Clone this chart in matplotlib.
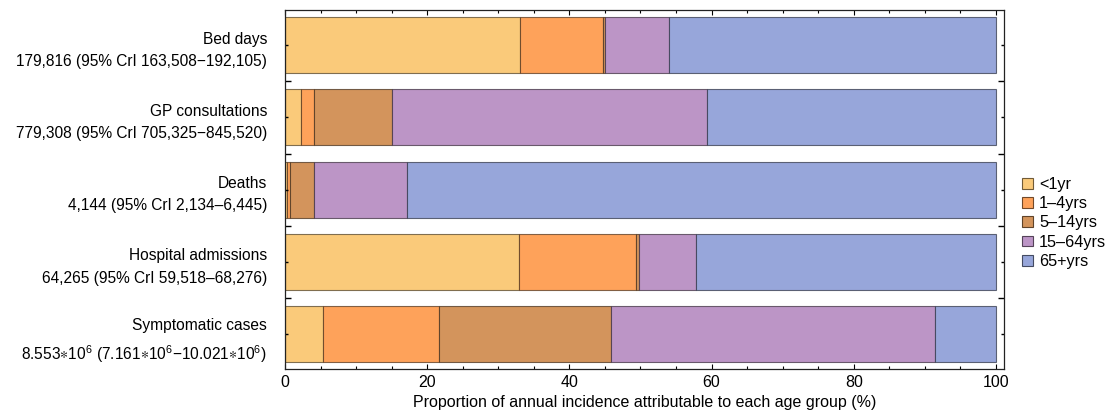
import numpy as np
import matplotlib.pyplot as plt
from matplotlib.patches import Patch
from matplotlib.ticker import MultipleLocator, FixedLocator
from matplotlib.colors import to_rgb

plt.rcParams['font.family'] = ['Liberation Sans', 'DejaVu Sans']
plt.rcParams['mathtext.fontset'] = 'custom'
plt.rcParams['mathtext.rm'] = 'Liberation Sans'
plt.rcParams['mathtext.it'] = 'Liberation Sans:italic'
plt.rcParams['mathtext.fallback'] = 'stixsans'

# === DATOS ===
categorias = ['Bed days', 'GP consultations', 'Deaths',
              'Hospital admissions', 'Symptomatic cases']
totales = ['179,816 (95% CrI 163,508\u2212192,105)',
           '779,308 (95% CrI 705,325\u2212845,520)',
           '4,144 (95% CrI 2,134\u20136,445)',
           '64,265 (95% CrI 59,518\u201368,276)',
           r'8.553$\ast$10$^{6}$ (7.161$\ast$10$^{6}$$-$10.021$\ast$10$^{6}$)']
grupos = ['<1yr', '1\u20134yrs', '5\u201314yrs', '15\u201364yrs', '65+yrs']

# porcentaje por grupo de edad (cada fila suma 100)
p_menor1 = [33.1, 2.2, 0.25, 32.9, 5.4]
p_1_4 = [11.6, 1.9, 0.45, 16.45, 16.3]
p_5_14 = [0.3, 11.0, 3.4, 0.4, 24.2]
p_15_64 = [9.0, 44.3, 13.0, 8.05, 45.6]
p_65 = [46.0, 40.6, 82.9, 42.2, 8.5]

colores = ['#FACA7A', '#FEA25A', '#D3945C', '#BC95C6', '#97A6DA']

# === FIGURA ===
fig = plt.figure(figsize=(11.14, 4.17), dpi=100)
ax = fig.add_axes([285 / 1114, 1 - 369.3 / 417, (1003.7 - 285) / 1114, (369.3 - 10) / 417])

y = np.arange(len(categorias))
alto = 0.775
izq = np.zeros(len(categorias))
for vals, col in zip([p_menor1, p_1_4, p_5_14, p_15_64, p_65], colores):
    borde = tuple(np.array(to_rgb(col)) * 0.35) + (0.75,)
    ax.barh(y, vals, left=izq, height=alto, color=col, edgecolor=borde,
            linewidth=0.8)
    izq += np.array(vals)

ax.set_xlim(0, 101.1)
ax.set_ylim(len(categorias) - 1 + 0.486, -0.486)

# ejes y: etiquetas en el centro de cada barra, separadores entre barras
ax.set_yticks(y)
ax.set_yticklabels([f'{c}\n{t}' for c, t in zip(categorias, totales)],
                   fontsize=11.2, linespacing=1.6)
ax.yaxis.set_minor_locator(FixedLocator(y[:-1] + 0.5))
ax.tick_params(axis='y', which='major', direction='in', length=2.5, width=1.0,
               pad=13, left=True, right=True)
ax.tick_params(axis='y', which='minor', direction='in', length=4.5, width=1.0,
               left=True, right=True)

ax.xaxis.set_major_locator(MultipleLocator(20))
ax.xaxis.set_minor_locator(MultipleLocator(5))
ax.tick_params(axis='x', which='major', direction='in', length=3.5, width=0.8,
               top=True, bottom=True, labelsize=11.5, pad=4)
ax.tick_params(axis='x', which='minor', direction='in', length=2, width=0.8,
               top=True, bottom=True)
ax.set_xlabel('Proportion of annual incidence attributable to each age group (%)',
              fontsize=11.5, labelpad=4)

for s in ax.spines.values():
    s.set_linewidth(0.9)
    s.set_color('#222222')

handles = [Patch(facecolor=c, edgecolor=tuple(np.array(to_rgb(c)) * 0.45),
                 linewidth=0.8) for c in colores]
fig.legend(handles, grupos, loc='center left', bbox_to_anchor=(1022 / 1114, 1 - 223 / 417),
           frameon=False, fontsize=11.7, handlelength=0.65, handleheight=0.65,
           handletextpad=0.4, labelspacing=0.26, borderpad=0, borderaxespad=0)

plt.savefig('out.png', dpi=100)
plt.close()
